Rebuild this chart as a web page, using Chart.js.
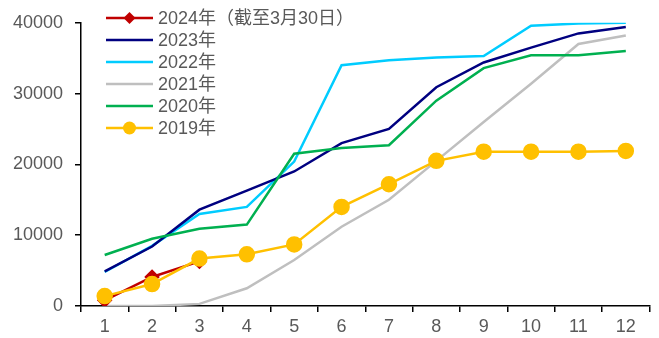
<!DOCTYPE html>
<html>
<head>
<meta charset="utf-8">
<script src="https://cdn.jsdelivr.net/npm/chart.js@4/dist/chart.umd.min.js"></script>
<style>
html,body{margin:0;padding:0;background:#fff;}
#wrap{width:659px;height:338px;position:relative;}
</style>
</head>
<body>
<div id="wrap"><canvas id="c" width="659" height="338"></canvas></div>
<script>
const months = ['1','2','3','4','5','6','7','8','9','10','11','12'];
const yTicks = [0, 10000, 20000, 30000, 40000];
const labels = ['2024年（截至3月30日）','2023年','2022年','2021年','2020年','2019年'];
const s2024 = [800, 4100, 6300];
const s2023 = [4900, 8400, 13600, 16300, 19000, 23000, 25000, 30900, 34400, 36500, 38500, 39400];
const s2022 = [4800, 8500, 13000, 14000, 20400, 34000, 34700, 35100, 35300, 39600, 39900, 40000];
const s2021 = [0, 0, 300, 2500, 6500, 11200, 15000, 20500, 26000, 31400, 37000, 38200];
const s2020 = [7200, 9500, 10900, 11500, 21500, 22300, 22700, 29000, 33600, 35400, 35400, 36000];
const s2019 = [1400, 3100, 6700, 7300, 8700, 14000, 17200, 20500, 21800, 21800, 21800, 21900];
const colors = ['#C00000', '#000080', '#00CCFF', '#BFBFBF', '#00B050', '#FFC000'];

const FONT = '"Liberation Sans", Arial, "Noto Sans CJK SC", sans-serif';

function ds(i, data, extra) {
  return Object.assign({
    label: labels[i], data: data, borderColor: colors[i], backgroundColor: colors[i],
    borderWidth: 2.5, pointRadius: 0, tension: 0, fill: false
  }, extra || {});
}

const legendPlugin = {
  id: 'customLegend',
  afterDraw(chart) {
    const ctx = chart.ctx;
    const x0 = 106, x1 = 153, tx = 158, y0 = 18, dy = 22;
    ctx.save();
    ctx.font = '18px ' + FONT;
    ctx.textBaseline = 'middle';
    ctx.textAlign = 'left';
    chart.data.datasets.forEach((d, i) => {
      const y = y0 + i * dy;
      ctx.strokeStyle = d.borderColor;
      ctx.lineWidth = 2.5;
      ctx.beginPath(); ctx.moveTo(x0, y); ctx.lineTo(x1, y); ctx.stroke();
      const cx = (x0 + x1) / 2;
      if (d.pointStyle === 'rectRot') {
        ctx.fillStyle = d.borderColor;
        ctx.beginPath();
        ctx.moveTo(cx, y - 6); ctx.lineTo(cx + 6, y); ctx.lineTo(cx, y + 6); ctx.lineTo(cx - 6, y);
        ctx.closePath(); ctx.fill();
      } else if (d.pointStyle === 'circle' && d.pointRadius > 0) {
        ctx.fillStyle = d.borderColor;
        ctx.beginPath(); ctx.arc(cx, y, 6.5, 0, Math.PI * 2); ctx.fill();
      }
      ctx.fillStyle = '#595959';
      ctx.fillText(d.label, tx, y + 1);
    });
    ctx.restore();
  }
};

new Chart(document.getElementById('c'), {
  type: 'line',
  data: {
    labels: months,
    datasets: [
      ds(0, s2024, {pointStyle: 'rectRot', pointRadius: 6, order: 1}),
      ds(1, s2023, {order: 3}),
      ds(2, s2022, {order: 4}),
      ds(3, s2021, {order: 5}),
      ds(4, s2020, {order: 2}),
      ds(5, s2019, {pointStyle: 'circle', pointRadius: 7, order: 0})
    ]
  },
  options: {
    responsive: false,
    animation: false,
    devicePixelRatio: 1,
    layout: {padding: {top: 21, right: 3, left: 0, bottom: 0}},
    plugins: {legend: {display: false}, tooltip: {enabled: false}},
    scales: {
      x: {
        offset: true,
        grid: {offset: true, drawOnChartArea: false, drawTicks: true, tickLength: 6, color: '#000', lineWidth: 1.5},
        border: {color: '#000', width: 1.5},
        ticks: {color: '#595959', font: {family: FONT, size: 18}, padding: 4, maxRotation: 0},
        afterFit(s) { s.height = 32; }
      },
      y: {
        min: 0, max: 40000,
        afterBuildTicks(s) { s.ticks = yTicks.map(v => ({value: v})); },
        grid: {drawOnChartArea: false, drawTicks: true, tickLength: 6, color: '#000', lineWidth: 1.5},
        border: {color: '#000', width: 1.5},
        ticks: {color: '#595959', font: {family: FONT, size: 18}, padding: 12, callback: v => String(v)},
        afterFit(s) { s.width = 81; }
      }
    }
  },
  plugins: [legendPlugin]
});
</script>
</body>
</html>
